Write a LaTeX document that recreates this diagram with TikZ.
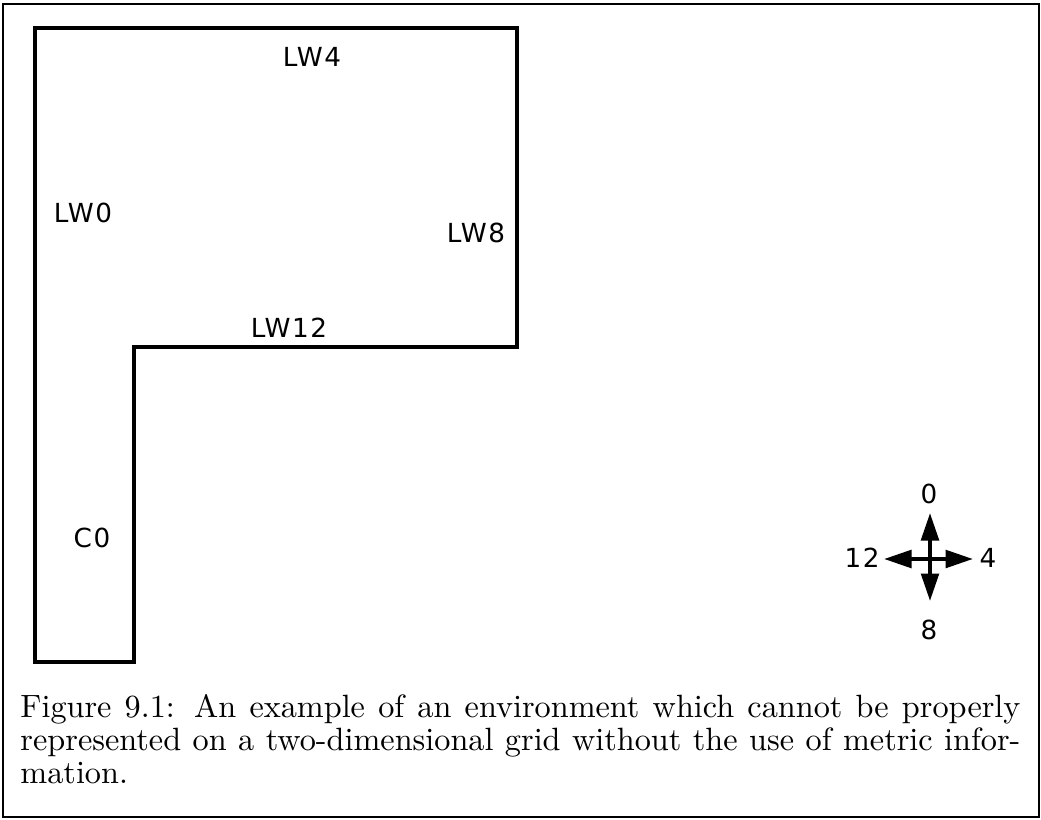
\documentclass[tikz,border=0pt]{standalone}
\usepackage{fontspec}
\newfontfamily\plotfont{DejaVu Sans}[LetterSpace=6]
\newfontfamily\capfont{lmroman10-regular}[Extension=.otf]
\usetikzlibrary{arrows.meta}
\begin{document}
\begin{tikzpicture}[x=0.4pt,y=-0.4pt,
  frame/.style={line width=0.8pt},
  wall/.style={line width=1.6pt, line join=miter},
  lbl/.style={font=\plotfont\fontsize{10.5}{12}\selectfont, inner sep=0},
  dirarrow/.style={line width=1.6pt, -{Triangle[length=11pt,width=7pt]}},
  captext/.style={font=\capfont\fontsize{12.9}{13.2}\selectfont, inner sep=0, anchor=north west, align=left}
]
\useasboundingbox (0,0) rectangle (1041,820);
\draw[frame] (3,4) rectangle (1039,817);
% L-shaped environment
\draw[wall] (35,28) -- (517,28) -- (517,347) -- (134,347) -- (134,662) -- (35,662) -- cycle;
% wall labels
\node[lbl] (lw4) at (312,57) {LW4};
\node[lbl] (lw0) at (83,213) {LW0};
\node[lbl] (lw8) at (476,233) {LW8};
\node[lbl] (lw12) at (289,328) {LW12};
\node[lbl] (c0) at (92,538) {C0};
% compass
\coordinate (cc) at (930,559);
\coordinate (tn) at (930,513);
\coordinate (ts) at (930,601);
\coordinate (tw) at (884,559);
\coordinate (te) at (973,559);
\draw[dirarrow] (cc) -- (tn);
\draw[dirarrow] (cc) -- (ts);
\draw[dirarrow] (cc) -- (tw);
\draw[dirarrow] (cc) -- (te);
\node[lbl] (d0) at (929,494) {0};
\node[lbl] (d12) at (862,558) {12};
\node[lbl] (d4) at (988,558) {4};
\node[lbl] (d8) at (929,630) {8};
% caption
\node[captext] (cap) at (20,694) {\makebox[400pt][s]{Figure 9.1: An example of an environment which cannot be properly}\\
\makebox[400pt][s]{represented on a two-dimensional grid without the use of metric infor-}\\
mation.};
\end{tikzpicture}
\end{document}
